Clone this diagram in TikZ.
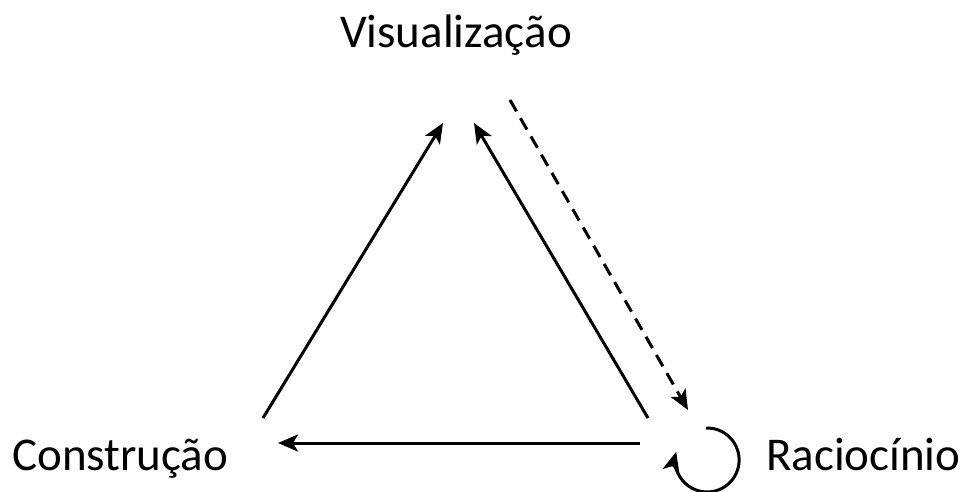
\documentclass[tikz,border=0pt]{standalone}
\usepackage{fontspec}
\setmainfont{Carlito}
\usetikzlibrary{arrows.meta}
\begin{document}
\begin{tikzpicture}[x=1pt,y=1pt,
  lbl/.style={inner sep=0pt, font=\fontsize{47}{50}\selectfont},
  arr/.style={line width=3pt, -{Stealth[length=20pt,width=17pt,inset=5pt]}},
  dasharr/.style={arr, dash pattern=on 13pt off 8pt}]
\useasboundingbox (0,0) rectangle (960,491);
\node[lbl, anchor=base] (vis) at (456,443) {Visualização};
\node[lbl, anchor=base west] (con) at (12,21) {Construção};
\node[lbl, anchor=base west] (rac) at (766,21) {Raciocínio};
\coordinate (c1s) at (263,73);
\coordinate (c1e) at (443,368);
\coordinate (c2s) at (648,73);
\coordinate (c2e) at (474,368);
\coordinate (dss) at (510,391);
\coordinate (dse) at (688,81);
\coordinate (hs) at (640,48);
\coordinate (he) at (278,48);
\coordinate (ls) at (706,63);
\draw[arr] (c1s) -- (c1e);
\draw[arr] (c2s) -- (c2e);
\draw[dasharr] (dss) -- (dse);
\draw[arr] (hs) -- (he);
\draw[arr] (ls) arc[start angle=92, end angle=-195, radius=32];
\end{tikzpicture}
\end{document}
